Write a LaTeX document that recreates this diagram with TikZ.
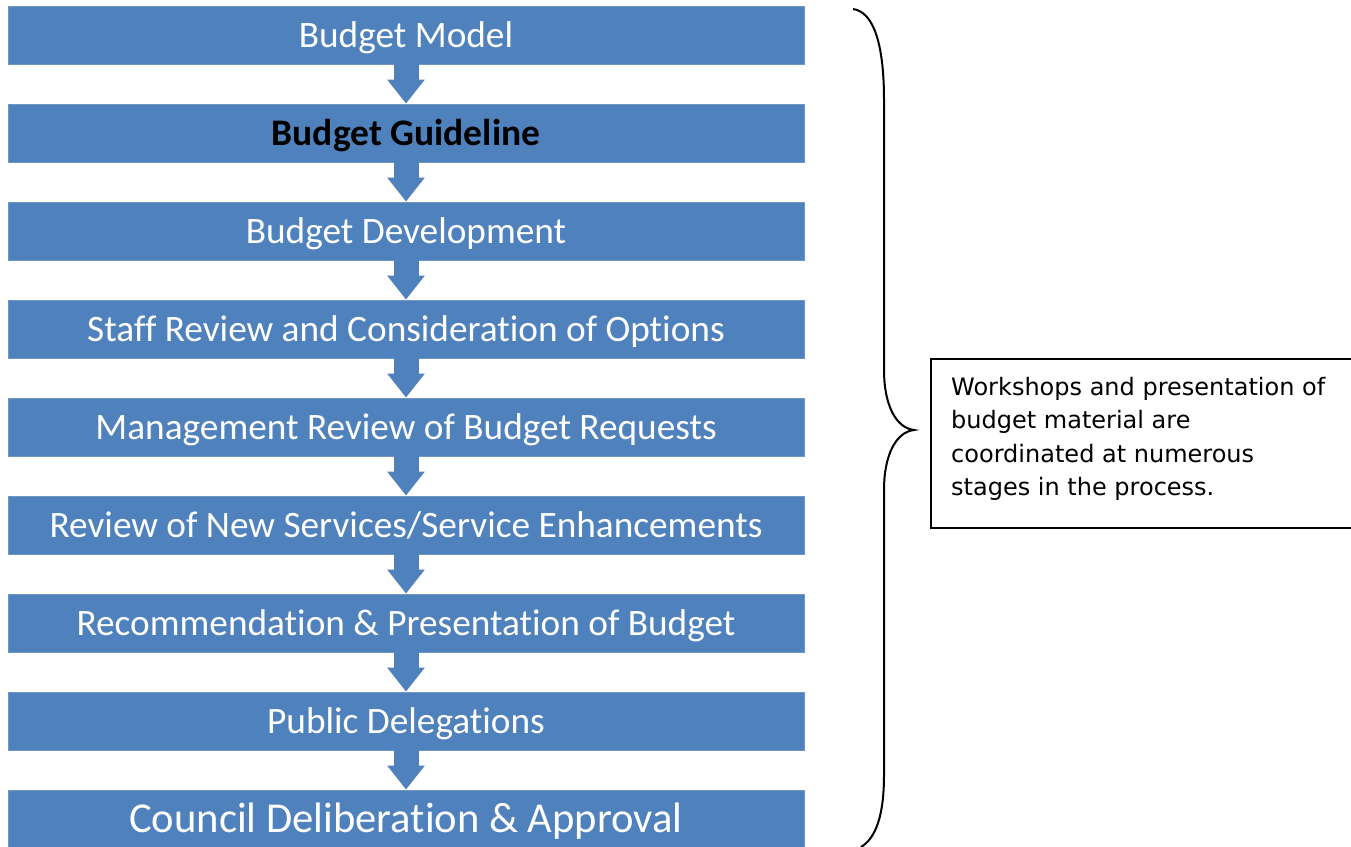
\documentclass[tikz,border=0pt]{standalone}
\usepackage{fontspec}
\setmainfont{Carlito}[Ligatures=NoCommon]
\newfontfamily\notefont{DejaVu Sans}
\usetikzlibrary{arrows.meta}
\definecolor{stepblue}{HTML}{4F81BD}
\definecolor{stepedge}{HTML}{7096C6}
\tikzset{
  stepbox/.style={rectangle, fill=stepblue, draw=stepedge, line width=0.8pt,
    minimum width=796pt, minimum height=58pt, inner sep=0pt, text=white,
    font=\fontsize{37.3}{40}\selectfont, text height=24pt, text depth=0pt},
  flow/.style={draw=stepblue, line width=25pt,
    -{Triangle[width=36pt 0 0, length=24pt 0 0]}},
  brace/.style={draw=black, line width=2pt},
  notebox/.style={rectangle, draw=black, line width=1.6pt, fill=white,
    minimum width=422pt, minimum height=169pt, anchor=north west, inner sep=0pt},
  notetext/.style={anchor=north west, align=left, inner sep=0pt,
    font=\notefont\fontsize{24}{33.5}\selectfont}
}
\begin{document}
\begin{tikzpicture}[x=1pt, y=-1pt]
\useasboundingbox (0,0) rectangle (1351,846);

% process steps
\node[stepbox] (s1) at (406,35)  {Budget Model};
\node[stepbox, text=black, font=\bfseries\fontsize{37.5}{40}\selectfont] (s2) at (406,133) {Budget Guideline};
\node[stepbox] (s3) at (406,231) {Budget Development};
\node[stepbox] (s4) at (406,329) {Staff Review and Consideration of Options};
\node[stepbox] (s5) at (406,427) {Management Review of Budget Requests};
\node[stepbox] (s6) at (406,525) {Review of New Services/Service Enhancements};
\node[stepbox] (s7) at (406,623) {Recommendation \& Presentation of Budget};
\node[stepbox] (s8) at (406,721) {Public Delegations};
\node[stepbox, font=\fontsize{42.6}{46}\selectfont, text height=27.5pt] (s9) at (406,819) {Council Deliberation \& Approval};

% arrows between steps
\foreach \a/\b in {s1/s2, s2/s3, s3/s4, s4/s5, s5/s6, s6/s7, s7/s8, s8/s9}
  \draw[flow] (\a.south) -- (\b.north);

% curly brace spanning all steps
\coordinate (btop) at (853,9);
\coordinate (btip) at (914,430);
\coordinate (bbot) at (861,847);
\draw[brace] (btop) .. controls (874,12) and (884,45) .. (884,100)
  -- (884,370) .. controls (884,405) and (896,428) .. (btip)
  .. controls (896,432) and (884,455) .. (884,490)
  -- (884,775) .. controls (884,815) and (876,838) .. (bbot);

% note
\node[notebox] (note) at (930,358) {};
\node[notetext] (notetxt) at (951,377) {Workshops and presentation of\\budget material are\\coordinated at numerous\\stages in the process.};
\end{tikzpicture}
\end{document}
